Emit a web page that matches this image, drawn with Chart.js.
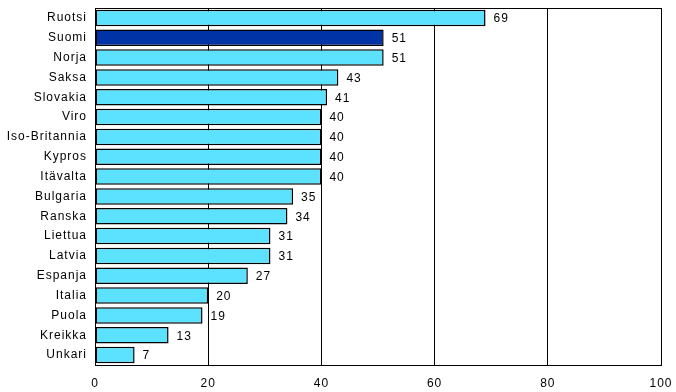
<!DOCTYPE html>
<html>
<head>
<meta charset="utf-8">
<script src="https://cdn.jsdelivr.net/npm/chart.js@4/dist/chart.umd.min.js"></script>
<style>
  html, body { margin: 0; padding: 0; background: #fff; }
  #wrap { width: 676px; height: 392px; }
</style>
</head>
<body>
<div id="wrap"><canvas id="chart" width="676" height="392"></canvas></div>
<script>
const countries = ["Ruotsi", "Suomi", "Norja", "Saksa", "Slovakia", "Viro", "Iso-Britannia", "Kypros", "Itävalta", "Bulgaria", "Ranska", "Liettua", "Latvia", "Espanja", "Italia", "Puola", "Kreikka", "Unkari"];
const values = [69, 51, 51, 43, 41, 40, 40, 40, 40, 35, 34, 31, 31, 27, 20, 19, 13, 7];
const xTicks = [0, 20, 40, 60, 80, 100];
const highlight = "Suomi";

const barColors = countries.map((c) => (c === highlight ? "#0033a6" : "#5ce1ff"));
const fontFamily = "'Liberation Sans', Arial, sans-serif";

// the original text is a bit spread out
const spacingPlugin = {
  id: "spacing",
  beforeDraw(chart) {
    chart.ctx.letterSpacing = "1px";
  },
};

// value labels next to bar ends + frame around plot area
const labelsPlugin = {
  id: "valueLabels",
  afterDatasetsDraw(chart) {
    const { ctx, chartArea } = chart;
    ctx.save();
    ctx.strokeStyle = "#000";
    ctx.lineWidth = 1;
    ctx.strokeRect(Math.round(chartArea.left) + 0.5, Math.round(chartArea.top) + 0.5,
      Math.round(chartArea.width), Math.round(chartArea.height));
    ctx.font = "12px " + fontFamily;
    ctx.fillStyle = "#000";
    ctx.textBaseline = "middle";
    ctx.textAlign = "left";
    chart.getDatasetMeta(0).data.forEach((bar, i) => {
      ctx.fillText(String(values[i]), bar.x + 8, bar.y + 1);
    });
    ctx.restore();
  },
};

new Chart(document.getElementById("chart"), {
  type: "bar",
  data: {
    labels: countries,
    datasets: [
      {
        data: values,
        backgroundColor: barColors,
        borderColor: "#000",
        borderWidth: 1.5,
        borderSkipped: false,
        categoryPercentage: 0.83,
        barPercentage: 1,
      },
    ],
  },
  options: {
    indexAxis: "y",
    responsive: false,
    animation: false,
    layout: { padding: { top: 8, right: 15, bottom: 0, left: 0 } },
    scales: {
      x: {
        min: 0,
        max: 100,
        afterBuildTicks: (axis) => {
          axis.ticks = xTicks.map((v) => ({ value: v }));
        },
        afterFit: (axis) => {
          axis.height = 27;
          axis.paddingLeft = 0;
          axis.paddingRight = 0;
        },
        ticks: {
          color: "#000",
          font: { family: fontFamily, size: 12 },
          padding: 11,
          maxRotation: 0,
        },
        grid: { color: "#000", lineWidth: 1, drawTicks: false },
        border: { display: false },
      },
      y: {
        afterFit: (axis) => {
          axis.width = 95;
          axis.paddingTop = 0;
          axis.paddingBottom = 0;
        },
        ticks: {
          color: "#000",
          font: { family: fontFamily, size: 12 },
          padding: 8,
          autoSkip: false,
        },
        grid: { display: false, drawTicks: false },
        border: { display: false },
      },
    },
    plugins: {
      legend: { display: false },
      tooltip: { enabled: false },
    },
  },
  plugins: [spacingPlugin, labelsPlugin],
});
</script>
</body>
</html>
